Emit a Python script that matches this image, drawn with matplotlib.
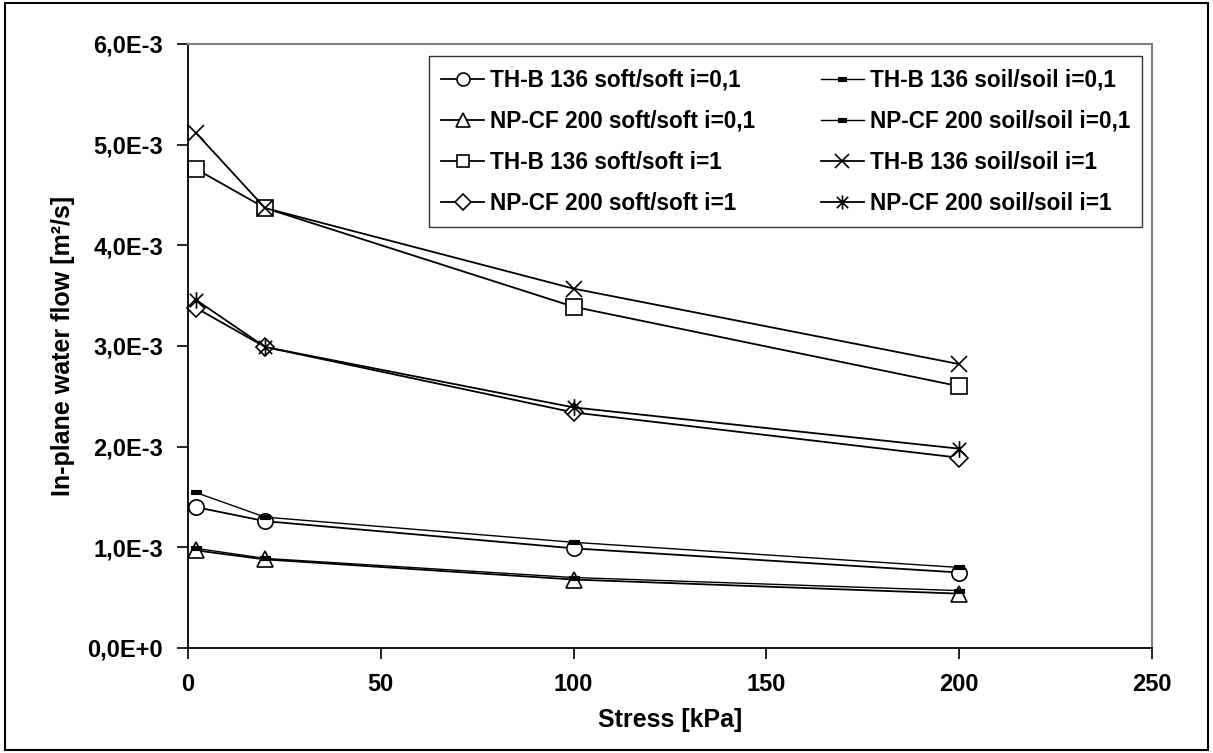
import matplotlib
matplotlib.use("Agg")
import matplotlib.pyplot as plt
from matplotlib.path import Path
from matplotlib.patches import Rectangle
from matplotlib.ticker import FuncFormatter, MultipleLocator

plt.rcParams['font.family'] = ['Liberation Sans', 'DejaVu Sans']
plt.rcParams['font.weight'] = 'bold'

stress = [2, 20, 100, 200]
thb_soft_01 = [1.40e-3, 1.26e-3, 0.99e-3, 0.75e-3]
thb_soil_01 = [1.545e-3, 1.30e-3, 1.05e-3, 0.80e-3]
np_soft_01 = [0.97e-3, 0.88e-3, 0.68e-3, 0.54e-3]
np_soil_01 = [0.99e-3, 0.89e-3, 0.70e-3, 0.57e-3]
thb_soft_1 = [4.76e-3, 4.37e-3, 3.39e-3, 2.60e-3]
thb_soil_1 = [5.12e-3, 4.37e-3, 3.57e-3, 2.82e-3]
np_soft_1 = [3.38e-3, 2.99e-3, 2.34e-3, 1.89e-3]
np_soil_1 = [3.46e-3, 2.99e-3, 2.39e-3, 1.98e-3]

labels = ["TH-B 136 soft/soft i=0,1", "TH-B 136 soil/soil i=0,1",
          "NP-CF 200 soft/soft i=0,1", "NP-CF 200 soil/soil i=0,1",
          "TH-B 136 soft/soft i=1", "TH-B 136 soil/soil i=1",
          "NP-CF 200 soft/soft i=1", "NP-CF 200 soil/soil i=1"]

dash = Path([(-1, -0.45), (1, -0.45), (1, 0.45), (-1, 0.45), (-1, -0.45)],
            [Path.MOVETO, Path.LINETO, Path.LINETO, Path.LINETO, Path.CLOSEPOLY])
star = Path([(-1, -1), (1, 1), (-1, 1), (1, -1), (0, -1.25), (0, 1.25)],
            [Path.MOVETO, Path.LINETO, Path.MOVETO, Path.LINETO, Path.MOVETO, Path.LINETO])

fig = plt.figure(figsize=(12.13, 7.53), dpi=100)
ax = fig.add_axes([188/1213, 1-648/753, (1152-188)/1213, (648-44)/753])

lw = 1.3
common = dict(color='black', lw=lw, markeredgecolor='black', markeredgewidth=1.2, clip_on=False)
h = {}
h[0], = ax.plot(stress, thb_soft_01, marker='o', ms=11, mfc='white', **common)
h[1], = ax.plot(stress, thb_soil_01, marker=dash, ms=7, mfc='black', color='black', lw=1.0,
                markeredgecolor='black', markeredgewidth=0.8, clip_on=False)
h[2], = ax.plot(stress, np_soft_01, marker='^', ms=12, mfc='white', **common)
h[3], = ax.plot(stress, np_soil_01, marker=dash, ms=7, mfc='black', color='black', lw=1.0,
                markeredgecolor='black', markeredgewidth=0.8, clip_on=False)
h[4], = ax.plot(stress, thb_soft_1, marker='s', ms=11, mfc='white', **common)
h[5], = ax.plot(stress, thb_soil_1, marker='x', ms=12, mfc='none', **common)
h[6], = ax.plot(stress, np_soft_1, marker='D', ms=9.5, mfc='white', **common)
h[7], = ax.plot(stress, np_soil_1, marker=star, ms=12, mfc='none', **common)

ax.set_xlim(0, 250)
ax.set_ylim(0, 6e-3)
ax.xaxis.set_major_locator(MultipleLocator(50))
ax.yaxis.set_major_locator(MultipleLocator(1e-3))


def yfmt(v, pos):
    m, e = f"{v:.1E}".split('E')
    return f"{m.replace('.', ',')}E{int(e):+d}"


ax.yaxis.set_major_formatter(FuncFormatter(yfmt))
ax.tick_params(axis='both', direction='out', length=8, width=1.2, labelsize=17, colors='black')
ax.tick_params(axis='y', pad=10)
ax.tick_params(axis='x', pad=10)
for lab in ax.get_xticklabels() + ax.get_yticklabels():
    lab.set_fontweight('bold')

for s in ['left', 'bottom']:
    ax.spines[s].set_color('black')
    ax.spines[s].set_linewidth(1.3)
for s in ['top', 'right']:
    ax.spines[s].set_color('#808080')
    ax.spines[s].set_linewidth(1.5)

ax.set_xlabel("Stress [kPa]", fontsize=18, fontweight='bold', labelpad=9)
ax.set_ylabel("In-plane water flow [m²/s]", fontsize=18, fontweight='bold', labelpad=9)

order = [0, 2, 4, 6, 1, 3, 5, 7]
leg = ax.legend([h[i] for i in order], [labels[i] for i in order], ncol=2,
                loc='upper right', bbox_to_anchor=(0.990, 0.980), borderaxespad=0,
                fontsize=16.3, frameon=True, fancybox=False, edgecolor='black',
                handlelength=1.9, handletextpad=0.25, columnspacing=2.9,
                labelspacing=0.8, borderpad=0.55, markerscale=0.85)
leg.get_frame().set_linewidth(1.0)
for t in leg.get_texts():
    t.set_fontweight('bold')

fig.patches.append(Rectangle((0.004, 0.004), 0.992, 0.992, transform=fig.transFigure,
                             fill=False, edgecolor='black', lw=1.5))

fig.savefig("out.png", dpi=100)
